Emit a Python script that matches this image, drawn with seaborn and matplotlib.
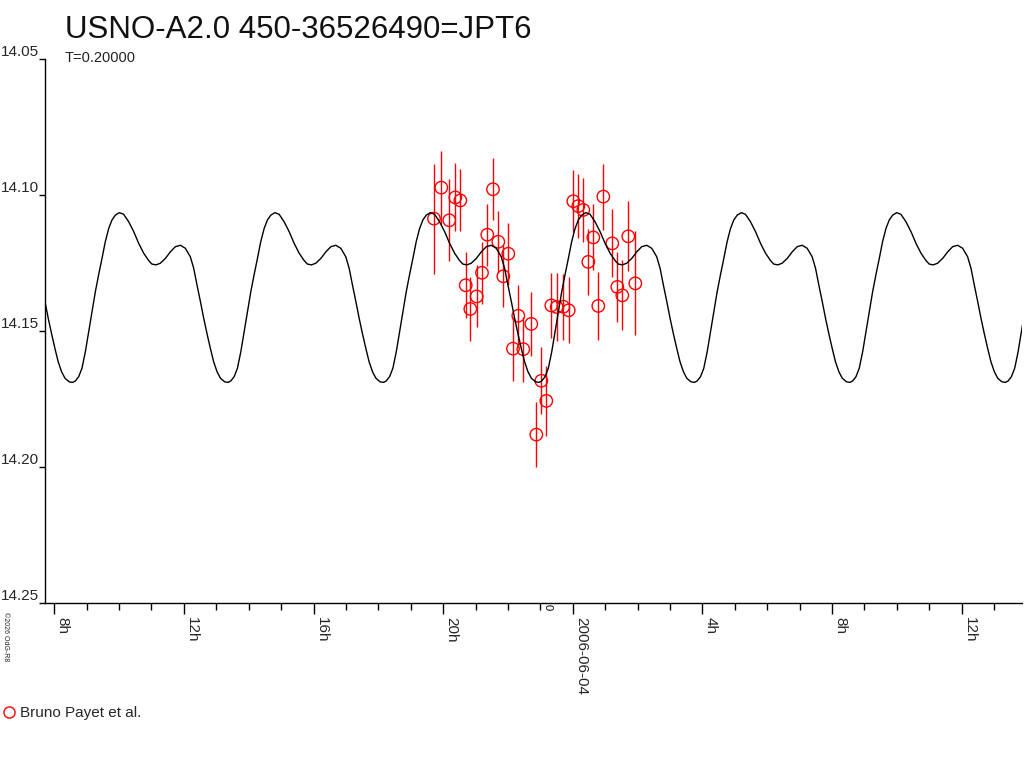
import numpy as np
import pandas as pd
import matplotlib
matplotlib.use('Agg')
import matplotlib.pyplot as plt
import matplotlib.transforms as mtransforms
import seaborn as sns

# --- data ---
# times are hours since 2006-06-03 00h UT
period_h = 4.798
epoch_h = 22.96  # a deep minimum of the model curve

# one cycle of the model curve, phase counted from the deep minimum
model_phase = [0.000, 0.017, 0.039, 0.060, 0.082, 0.103, 0.124, 0.146,
               0.167, 0.189, 0.210, 0.232, 0.253, 0.275, 0.301, 0.328,
               0.360, 0.393, 0.425, 0.457, 0.489, 0.510, 0.536, 0.564,
               0.597, 0.629, 0.661, 0.693, 0.725, 0.757, 0.779, 0.800,
               0.822, 0.843, 0.864, 0.886, 0.907, 0.929, 0.951, 0.978]
model_mag = [14.1690, 14.1685, 14.1669, 14.1638, 14.1577, 14.1504, 14.1430, 14.1357,
             14.1295, 14.1234, 14.1173, 14.1124, 14.1093, 14.1075, 14.1066, 14.1072,
             14.1099, 14.1136, 14.1179, 14.1215, 14.1242, 14.1255, 14.1258, 14.1252,
             14.1234, 14.1210, 14.1191, 14.1186, 14.1197, 14.1228, 14.1271, 14.1332,
             14.1393, 14.1454, 14.1510, 14.1565, 14.1614, 14.1651, 14.1675, 14.1688]

# observations (Bruno Payet et al.)
obs_h = [19.719, 19.944, 20.191, 20.377, 20.531, 20.698, 20.840, 21.037,
         21.201, 21.364, 21.540, 21.704, 21.858, 22.012, 22.157, 22.321,
         22.475, 22.722, 22.877, 23.031, 23.185, 23.340, 23.506, 23.710,
         23.877, 24.019, 24.173, 24.327, 24.481, 24.636, 24.790, 24.944,
         25.222, 25.377, 25.531, 25.716, 25.932]
obs_mag = [14.1088, 14.0974, 14.1094, 14.1010, 14.1021, 14.1333, 14.1420, 14.1374,
           14.1287, 14.1147, 14.0980, 14.1173, 14.1300, 14.1217, 14.1566, 14.1445,
           14.1568, 14.1475, 14.1882, 14.1684, 14.1758, 14.1407, 14.1413, 14.1412,
           14.1425, 14.1024, 14.1042, 14.1056, 14.1247, 14.1157, 14.1409, 14.1007,
           14.1179, 14.1339, 14.1370, 14.1153, 14.1326]
obs_err = [0.0202, 0.0135, 0.0151, 0.0125, 0.0114, 0.0121, 0.0119, 0.0114,
           0.0114, 0.0114, 0.0114, 0.0114, 0.0114, 0.0114, 0.0118, 0.0114,
           0.0119, 0.0118, 0.0119, 0.0123, 0.0129, 0.0119, 0.0125, 0.0121,
           0.0121, 0.0114, 0.0118, 0.0118, 0.0121, 0.0121, 0.0125, 0.0121,
           0.0125, 0.0129, 0.0129, 0.0129, 0.0191]

xtick_major = [8, 12, 16, 20, 24, 28, 32, 36]
xtick_labels = ['8h', '12h', '16h', '20h', '2006-06-04', '4h', '8h', '12h']
xtick_minor = list(range(8, 38))
ytick_vals = [14.05, 14.10, 14.15, 14.20, 14.25]

# --- build tables ---
cycles = range(-4, 4)
model = pd.DataFrame({
    'hours': [epoch_h + (k + p) * period_h for k in cycles for p in model_phase],
    'mag': model_mag * len(cycles),
})
obs = pd.DataFrame({'hours': obs_h, 'mag': obs_mag, 'err': obs_err})

# --- plot ---
sns.set_style('white')
plt.rcParams['font.family'] = ['Liberation Sans', 'DejaVu Sans']

fig = plt.figure(figsize=(10.24, 7.68), dpi=100)
ax = fig.add_axes([45 / 1024, 1 - 602.7 / 768, 977 / 1024, 544 / 768])

ax.errorbar(obs['hours'], obs['mag'], yerr=obs['err'], fmt='none',
            ecolor='#ff0000', elinewidth=1.0, capsize=0, zorder=2)
sns.scatterplot(data=obs, x='hours', y='mag', marker='o', s=80,
                facecolor='none', edgecolor='#ff0000', linewidth=1.0,
                ax=ax, zorder=3, legend=False)
sns.lineplot(data=model, x='hours', y='mag', color='black', linewidth=1.0,
             sort=False, estimator=None, ax=ax, zorder=4, legend=False)

ax.set_xlim(7.713, 37.867)
ax.set_ylim(14.25, 14.05)

for side in ['top', 'right']:
    ax.spines[side].set_visible(False)
for side in ['left', 'bottom']:
    ax.spines[side].set_color('black')
    ax.spines[side].set_linewidth(1.0)

ax.set_xticks(xtick_major)
ax.set_xticks(xtick_minor, minor=True)
ax.set_xticklabels(xtick_labels, rotation=-90, ha='left', va='top', fontsize=11)
ax.tick_params(axis='x', which='major', direction='out', length=8, width=1,
               color='black', pad=2, bottom=True)
ax.tick_params(axis='x', which='minor', direction='out', length=5, width=1,
               color='black', bottom=True)
shift = mtransforms.ScaledTranslation(1 / 72, 0, fig.dpi_scale_trans)
for lbl in ax.get_xticklabels():
    lbl.set_transform(lbl.get_transform() + shift)

ax.set_yticks(ytick_vals)
ax.set_yticklabels([f'{v:.2f}' for v in ytick_vals], fontsize=11)
ax.tick_params(axis='y', direction='out', length=4, width=1, color='black',
               pad=0, left=True)
for lbl in ax.get_yticklabels():
    lbl.set_va('bottom')

ax.set_xlabel('')
ax.set_ylabel('')
ax.grid(False)
if ax.get_legend() is not None:
    ax.get_legend().remove()

# small epoch mark on the axis
ax.text(23.06, 14.2505, '0', rotation=-90, fontsize=8, ha='left', va='top',
        color='black')

fig.text(65 / 1024, 1 - 30 / 768, 'USNO-A2.0 450-36526490=JPT6',
         fontsize=22.5, va='center', ha='left', color='#111111')
fig.text(65 / 1024, 1 - 58 / 768, 'T=0.20000', fontsize=10.5,
         va='center', ha='left', color='#222222')
fig.text(2 / 1024, 1 - 612 / 768, '©2026 OdG-R8', rotation=-90, fontsize=5,
         va='top', ha='left', color='#222222')

handle = plt.Line2D([], [], marker='o', linestyle='none', markersize=8,
                    markerfacecolor='none', markeredgecolor='#ff0000')
fig.legend([handle], ['Bruno Payet et al.'], loc='center left',
           bbox_to_anchor=(0 / 1024, 1 - 713 / 768), frameon=False,
           fontsize=11, handlelength=0.8, handletextpad=0.3,
           borderpad=0.2, borderaxespad=0)

fig.savefig('out.png', dpi=100)
